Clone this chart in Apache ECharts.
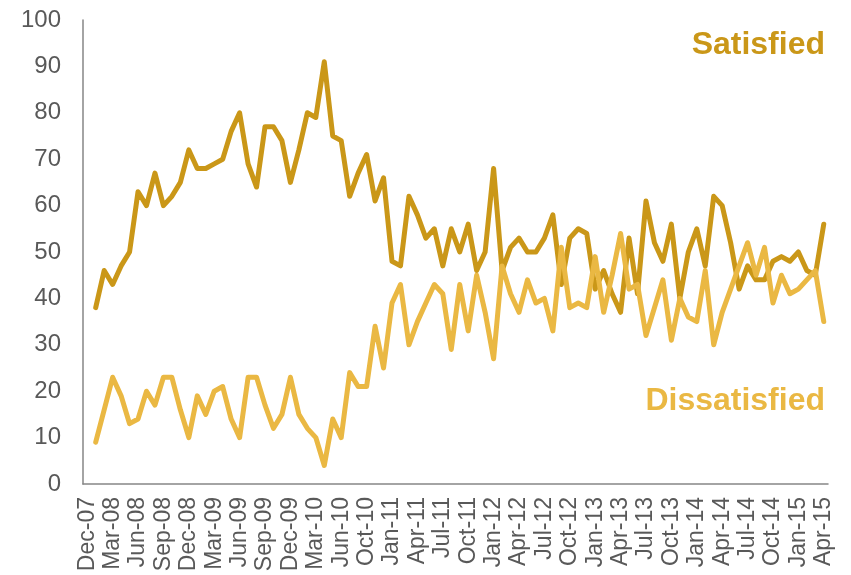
<!DOCTYPE html>
<html>
<head>
<meta charset="utf-8">
<script src="https://cdn.jsdelivr.net/npm/echarts@6/dist/echarts.min.js"></script>
<style>
html,body{margin:0;padding:0;background:#fff;}
#chart{width:851px;height:575px;}
</style>
</head>
<body>
<div id="chart"></div>
<script>
var categories = [
  'Dec-07',
  'Jan-08','Feb-08','Mar-08','Apr-08','May-08','Jun-08','Jul-08','Aug-08','Sep-08','Oct-08','Nov-08','Dec-08',
  'Jan-09','Feb-09','Mar-09','Apr-09','May-09','Jun-09','Jul-09','Aug-09','Sep-09','Oct-09','Nov-09','Dec-09',
  'Jan-10','Feb-10','Mar-10','Apr-10','May-10','Jun-10','Jul-10','Aug-10','Oct-10','Nov-10','Dec-10',
  'Jan-11','Feb-11','Mar-11','Apr-11','May-11','Jun-11','Jul-11','Aug-11','Sep-11','Oct-11','Nov-11','Dec-11',
  'Jan-12','Feb-12','Mar-12','Apr-12','May-12','Jun-12','Jul-12','Aug-12','Sep-12','Oct-12','Nov-12','Dec-12',
  'Jan-13','Feb-13','Mar-13','Apr-13','May-13','Jun-13','Jul-13','Aug-13','Sep-13','Oct-13','Nov-13','Dec-13',
  'Jan-14','Feb-14','Mar-14','Apr-14','May-14','Jun-14','Jul-14','Aug-14','Sep-14','Oct-14','Nov-14','Dec-14',
  'Jan-15','Feb-15','Mar-15','Apr-15'
];
var satisfied = [null,
  38,46,43,47,50, 63,60,67,60,62, 65,72,68,68,69, 70,76,80,69,64,
  77,77,74,65,72, 80,79,91,75,74, 62,67,71,61,66, 48,47,62,58,53,
  55,47,55,50,56, 46,50,68,46,51, 53,50,50,53,58, 43,53,55,54,42,
  46,41,37,53,41, 61,52,48,56,40, 50,55,47,62,60, 52,42,47,44,44,
  48,49,48,50,46, 45,56];
var dissatisfied = [null,
  9,16,23,19,13, 14,20,17,23,23, 16,10,19,15,20, 21,14,10,23,23,
  17,12,15,23,15, 12,10,4,14,10, 24,21,21,34,25, 39,43,30,35,39,
  43,41,29,43,33, 45,37,27,47,41, 37,44,39,40,33, 51,38,39,38,49,
  37,45,54,42,43, 32,38,44,31,40, 36,35,46,30,37, 42,47,52,45,51,
  39,45,41,42,44, 46,35];
var seriesNames = ['Satisfied', 'Dissatisfied'];
var colors = ['#CA9718', '#EAB843'];

var chart = echarts.init(document.getElementById('chart'), null, {renderer: 'canvas'});
var font = 'Liberation Sans, Arial, sans-serif';
chart.setOption({
  animation: false,
  backgroundColor: '#ffffff',
  grid: {left: 83, right: 23, top: 20, bottom: 91, containLabel: false},
  xAxis: {
    type: 'category',
    data: categories,
    boundaryGap: true,
    axisLine: {lineStyle: {color: '#868686', width: 1.5}},
    axisTick: {show: false},
    axisLabel: {
      interval: 2,
      rotate: 90,
      margin: 13,
      fontSize: 23,
      fontFamily: font,
      color: '#595959'
    },
    splitLine: {show: false}
  },
  yAxis: {
    type: 'value',
    min: 0, max: 100, interval: 10,
    axisLine: {show: true, lineStyle: {color: '#868686', width: 1.5}},
    axisTick: {show: false},
    axisLabel: {fontSize: 24, fontFamily: font, color: '#595959', margin: 22},
    splitLine: {show: false}
  },
  series: [
    {name: seriesNames[0], type: 'line', data: satisfied, symbol: 'none',
     lineStyle: {color: colors[0], width: 5, cap: 'round', join: 'round'}, itemStyle: {color: colors[0]}},
    {name: seriesNames[1], type: 'line', data: dissatisfied, symbol: 'none',
     lineStyle: {color: colors[1], width: 5, cap: 'round', join: 'round'}, itemStyle: {color: colors[1]}}
  ],
  graphic: [
    {type: 'text', right: 26, top: 29, style: {text: seriesNames[0], fill: colors[0], font: 'bold 32px ' + font}},
    {type: 'text', right: 26, top: 385, style: {text: seriesNames[1], fill: colors[1], font: 'bold 32px ' + font}}
  ]
});
</script>
</body>
</html>
